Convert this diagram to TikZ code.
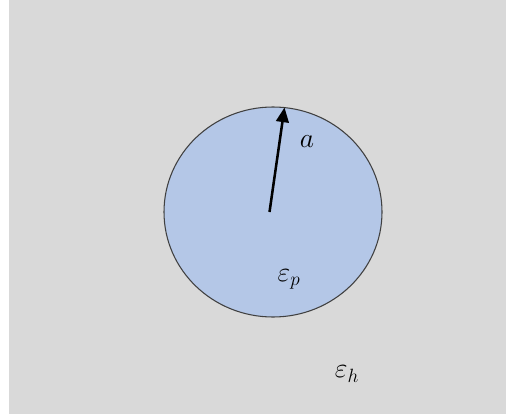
\documentclass[tikz,border=0pt]{standalone}
\usetikzlibrary{arrows.meta}
\definecolor{hostgray}{HTML}{D9D9D9}
\definecolor{partblue}{HTML}{B4C7E7}
\definecolor{rimgray}{HTML}{404040}
\begin{document}
\begin{tikzpicture}[x=0.75pt,y=-0.75pt,
  lbl/.style={inner sep=0pt,font=\fontsize{20}{24}\selectfont},
  radius arrow/.style={line width=1.9pt,-{Triangle[length=11pt,width=9.5pt]}}]
  \useasboundingbox (0,0) rectangle (506,417);
  \fill[white] (0,0) rectangle (506,417);
  \fill[hostgray] (9,0) rectangle (506,414);
  \draw[fill=partblue,draw=rimgray,line width=0.8pt] (273,212) ellipse [x radius=109, y radius=105];
  \coordinate (o) at (269.5,212);
  \coordinate (t) at (284.5,107.5);
  \draw[radius arrow] (o) -- (t);
  \node[lbl] (la) at (307,142) {$a$};
  \node[lbl] (lp) at (289,279) {$\varepsilon_p$};
  \node[lbl] (lh) at (347,374) {$\varepsilon_h$};
\end{tikzpicture}
\end{document}
